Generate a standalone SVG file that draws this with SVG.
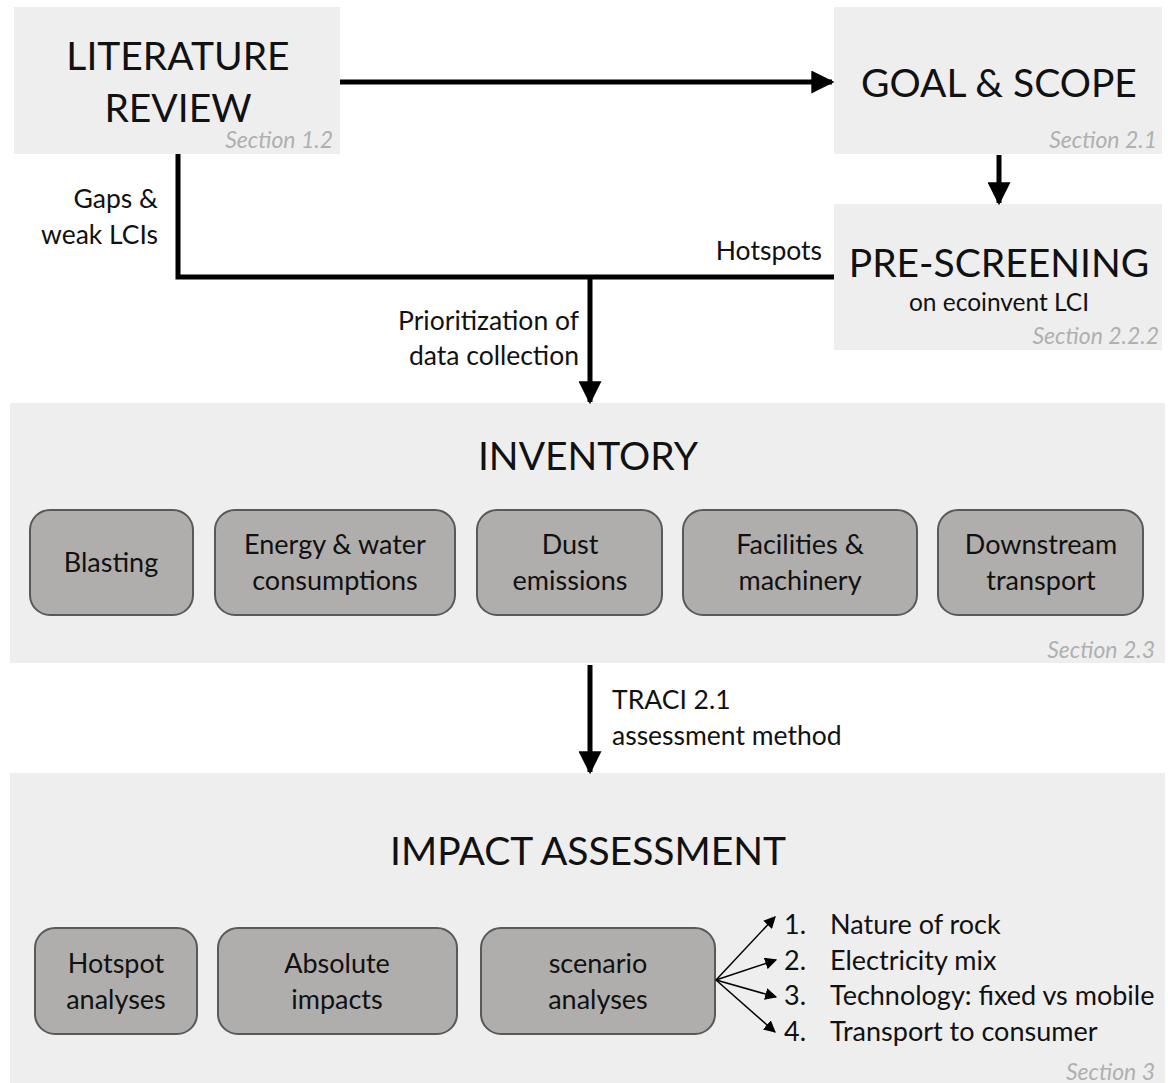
<svg xmlns="http://www.w3.org/2000/svg" width="1168" height="1083" viewBox="0 0 1168 1083">
<style>
text{font-family:Lato,"Open Sans","Liberation Sans",sans-serif;fill:#111}
.panel{fill:#eeeeee}
.sub{fill:#b0aeac;stroke:#595959;stroke-width:2}
.big{font-size:39px}
.mid{font-size:27px;text-anchor:middle}
.lbl{font-size:26.5px}
.sec{font-size:23px;font-style:italic;fill:#b0b0b0;text-anchor:end}
.ln{stroke:#000;stroke-width:5;fill:none}
.thin{stroke:#000;stroke-width:1.5;fill:none}
</style>
<defs>
<marker id="ah" viewBox="0 0 10 10" refX="9" refY="5" markerWidth="4.6" markerHeight="4.6" markerUnits="strokeWidth" orient="auto"><path d="M0,0L10,5L0,10z" fill="#000"/></marker>
<marker id="ahs" viewBox="0 0 10 10" refX="9" refY="5" markerWidth="12" markerHeight="12" markerUnits="userSpaceOnUse" orient="auto"><path d="M0,0L10,5L0,10z" fill="#000"/></marker>
</defs>
<rect width="1168" height="1083" fill="#fff"/>
<g id="literature">
<rect class="panel" x="14" y="7" width="326" height="147"/>
<text class="big" x="178" y="70" text-anchor="middle">LITERATURE</text>
<text class="big" x="178" y="122" text-anchor="middle">REVIEW</text>
<text class="sec" x="333" y="148">Section 1.2</text>
</g>
<g id="goal">
<rect class="panel" x="834" y="7" width="328" height="147"/>
<text class="big" x="999" y="97" text-anchor="middle">GOAL &amp; SCOPE</text>
<text class="sec" x="1157" y="148">Section 2.1</text>
</g>
<g id="prescreening">
<rect class="panel" x="834" y="204" width="328" height="146"/>
<text class="big" x="999" y="277" text-anchor="middle">PRE-SCREENING</text>
<text x="999" y="311" text-anchor="middle" style="font-size:24.5px">on ecoinvent LCI</text>
<text class="sec" x="1159" y="344">Section 2.2.2</text>
</g>
<g id="inventory">
<rect class="panel" x="10" y="403" width="1155" height="260"/>
<text class="big" x="588" y="470" text-anchor="middle">INVENTORY</text>
<text class="sec" x="1155" y="658">Section 2.3</text>
<g id="blasting"><rect class="sub" x="30" y="510" width="163" height="105" rx="20"/><text class="mid" x="111" y="572">Blasting</text></g>
<g id="energy"><rect class="sub" x="215" y="510" width="240" height="105" rx="20"/><text class="mid" x="335" y="554">Energy &amp; water</text><text class="mid" x="335" y="590">consumptions</text></g>
<g id="dust"><rect class="sub" x="477" y="510" width="185" height="105" rx="20"/><text class="mid" x="570" y="554">Dust</text><text class="mid" x="570" y="590">emissions</text></g>
<g id="facilities"><rect class="sub" x="683" y="510" width="234" height="105" rx="20"/><text class="mid" x="800" y="554">Facilities &amp;</text><text class="mid" x="800" y="590">machinery</text></g>
<g id="downstream"><rect class="sub" x="938" y="510" width="205" height="105" rx="20"/><text class="mid" x="1041" y="554">Downstream</text><text class="mid" x="1041" y="590">transport</text></g>
</g>
<g id="impact">
<rect class="panel" x="10" y="773" width="1155" height="310"/>
<text class="big" x="588" y="865" text-anchor="middle">IMPACT ASSESSMENT</text>
<text class="sec" x="1155" y="1080">Section 3</text>
<g id="hotspot"><rect class="sub" x="35" y="928" width="162" height="106" rx="20"/><text class="mid" x="116" y="973">Hotspot</text><text class="mid" x="116" y="1009">analyses</text></g>
<g id="absolute"><rect class="sub" x="218" y="928" width="239" height="106" rx="20"/><text class="mid" x="337" y="973">Absolute</text><text class="mid" x="337" y="1009">impacts</text></g>
<g id="scenario"><rect class="sub" x="481" y="928" width="234" height="106" rx="20"/><text class="mid" x="598" y="973">scenario</text><text class="mid" x="598" y="1009">analyses</text></g>
<g id="list" style="font-size:27px">
<text x="784" y="934">1.</text><text x="830" y="934">Nature of rock</text>
<text x="784" y="970">2.</text><text x="830" y="970">Electricity mix</text>
<text x="784" y="1005">3.</text><text x="830" y="1005">Technology: fixed vs mobile</text>
<text x="784" y="1041">4.</text><text x="830" y="1041">Transport to consumer</text>
</g>
</g>
<g id="connectors">
<line class="ln" x1="340" y1="82" x2="832" y2="82" marker-end="url(#ah)"/>
<line class="ln" x1="999" y1="155" x2="999" y2="203" marker-end="url(#ah)"/>
<polyline class="ln" points="178,154 178,277 834,277"/>
<line class="ln" x1="590" y1="277" x2="590" y2="402" marker-end="url(#ah)"/>
<line class="ln" x1="590" y1="665" x2="590" y2="772" marker-end="url(#ah)"/>
<line class="thin" x1="716" y1="980" x2="775" y2="917" marker-end="url(#ahs)"/>
<line class="thin" x1="716" y1="980" x2="776" y2="960" marker-end="url(#ahs)"/>
<line class="thin" x1="716" y1="980" x2="776" y2="997" marker-end="url(#ahs)"/>
<line class="thin" x1="716" y1="980" x2="775" y2="1032" marker-end="url(#ahs)"/>
<text class="lbl" x="158" y="208" text-anchor="end">Gaps &amp;</text>
<text class="lbl" x="158" y="244" text-anchor="end">weak LCIs</text>
<text class="lbl" x="822" y="260" text-anchor="end">Hotspots</text>
<text class="lbl" x="579" y="330" text-anchor="end">Prioritization of</text>
<text class="lbl" x="579" y="365" text-anchor="end">data collection</text>
<text class="lbl" x="612" y="709">TRACI 2.1</text>
<text class="lbl" x="612" y="745">assessment method</text>
</g>
</svg>
